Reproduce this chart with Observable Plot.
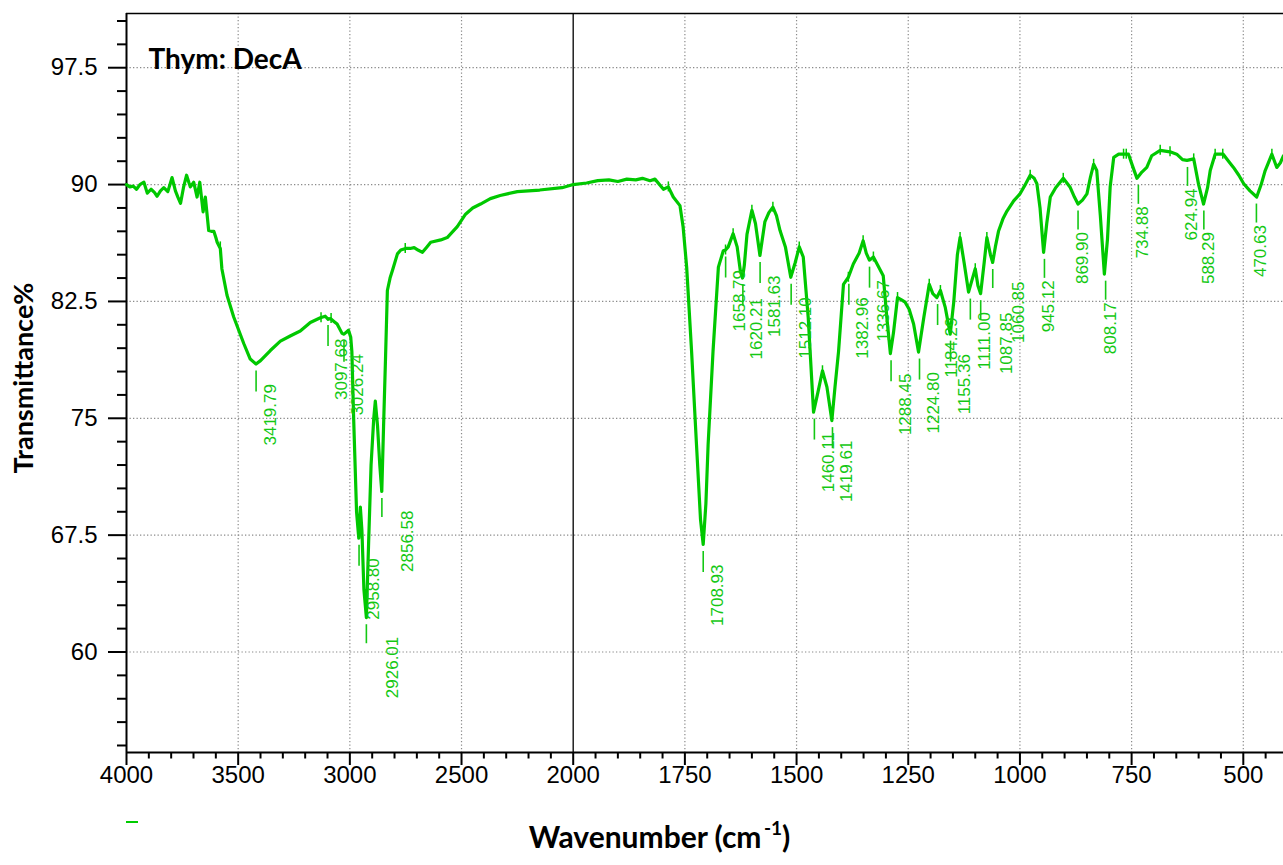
<!DOCTYPE html>
<html>
<head>
<meta charset="utf-8">
<script src="https://cdn.jsdelivr.net/npm/d3@7"></script>
<script src="https://cdn.jsdelivr.net/npm/@observablehq/plot@0.6"></script>
<style>
  body { margin: 0; background: #fff; }
  #wrap { position: relative; width: 1283px; height: 865px; }
  #swatch { position: absolute; left: 126px; top: 821px; width: 12px; height: 1.5px; background: #00cc00; }
</style>
</head>
<body>
<div id="wrap"><div id="swatch"></div></div>
<script>
// ---- data ----
const wavenumber = [
  4000,3985,3970,3955,3940,3922,3907,3890,3875,3863,3848,3833,3815,3796,3781,3770,3758,3745,3731,3720,
  3714,3699,3684,3672,3657,3647,3632,3620,3609,3600,3594,3580,3573,3550,3520,3475,3446,3420,3400,3356,
  3311,3265,3222,3177,3132,3110,3097,3087,3070,3057,3035,3026,3006,2996,2991,2983,2970,2960,2953,2946,
  2937,2926,2916,2905,2893,2886,2876,2866,2857,2849,2840,2832,2820,2809,2787,2772,2750,2730,2712,2695,
  2675,2655,2638,2593,2564,2519,2482,2450,2415,2371,2327,2250,2150,2050,2000,1970,1945,1920,1900,1880,
  1860,1845,1828,1817,1798,1787,1776,1761,1754,1746,1735,1724,1715,1709,1703,1698,1687,1675,1664,1659,
  1653,1642,1633,1626,1621,1617,1611,1600,1592,1582,1571,1562,1553,1545,1537,1525,1513,1503,1494,1485,
  1474,1462,1452,1442,1432,1421,1414,1406,1395,1384,1373,1360,1351,1344,1337,1328,1318,1306,1298,1290,
  1283,1274,1265,1257,1248,1238,1227,1215,1203,1195,1186,1178,1167,1156,1148,1140,1134,1125,1115,1108,
  1100,1094,1088,1080,1074,1066,1061,1055,1048,1038,1029,1014,1000,990,977,968,962,955,947,940,
  932,920,903,888,878,870,860,850,842,835,828,820,811,804,798,790,779,768,757,748,
  738,727,716,705,686,675,664,649,636,626,611,600,589,580,574,563,545,533,522,510,
  499,485,470,460,451,436,425,417,410
];
const transmittance = [
  90.0,89.85,89.9,89.7,90.0,90.15,89.45,89.7,89.5,89.25,89.6,89.8,89.55,90.45,89.6,89.2,88.8,89.8,90.6,90.1,
  89.85,90.15,89.2,90.15,88.25,89.2,87.05,87.0,87.0,86.6,86.3,85.9,84.6,82.9,81.5,79.8,78.8,78.48,78.7,79.35,
  79.95,80.3,80.6,81.15,81.45,81.55,81.35,81.4,81.2,81.05,80.45,80.4,80.65,80.2,79.3,75.0,69.0,67.3,69.3,67.8,
  64.0,62.2,67.0,72.0,75.0,76.1,74.5,72.0,70.3,74.5,79.0,83.2,84.0,84.5,85.55,85.8,85.9,85.9,85.95,85.8,
  85.65,86.0,86.3,86.45,86.6,87.3,88.1,88.5,88.75,89.1,89.3,89.55,89.65,89.8,90.0,90.1,90.25,90.3,90.2,90.35,
  90.3,90.4,90.25,90.35,89.7,89.85,89.2,88.65,87.3,84.7,79.3,73.3,68.5,66.9,69.5,73.3,79.3,84.7,85.75,85.8,
  86.0,86.85,86.0,84.5,84.0,84.8,86.8,88.35,87.5,85.45,87.6,88.2,88.55,88.0,87.05,86.0,84.05,85.0,86.0,85.35,
  81.5,75.4,76.7,78.05,77.0,74.85,77.0,79.3,83.6,84.05,84.9,85.6,86.4,85.6,85.15,85.35,84.8,84.15,81.5,79.15,
  80.5,82.75,82.6,82.45,82.0,81.05,79.25,81.5,83.6,83.0,82.75,83.2,82.1,80.4,82.5,85.5,86.6,85.0,83.1,83.8,
  84.6,83.5,83.0,85.0,86.6,85.5,85.0,86.0,87.0,87.8,88.3,88.95,89.4,89.9,90.6,90.4,90.05,88.5,85.65,87.5,
  89.2,89.8,90.4,89.85,89.2,88.75,89.0,89.4,90.5,91.3,90.9,88.0,84.25,86.5,89.85,91.75,91.95,91.95,91.95,91.2,
  90.4,90.8,91.1,91.85,92.2,92.15,92.1,91.95,91.6,91.55,91.65,90.0,88.75,89.8,90.9,91.95,91.95,91.5,91.1,90.6,
  90.05,89.6,89.2,90.0,90.9,91.95,91.1,91.4,91.85
];
const peakWavenumber = [
  3419.79,3097.68,3026.24,2958.80,2926.01,2856.58,1708.93,1658.79,1620.21,1581.63,1512.10,1460.11,1419.61,
  1382.96,1336.67,1288.45,1224.80,1184.29,1155.36,1111.00,1087.85,1060.85,945.12,869.90,808.17,734.88,
  624.94,588.29,470.63
];
const peakTransmittance = [
  78.48,81.4,80.4,67.3,62.2,70.3,66.9,85.8,84.0,85.45,84.05,75.4,74.85,
  84.05,85.15,79.15,79.25,82.75,80.4,83.1,83.0,85.0,85.65,88.75,84.25,90.4,
  91.55,88.75,89.2
];
const markerWavenumber = [3580,3129,3084,2752,1787,1659,1642,1600,1553,1494,1442,1384,1351,1328,1274,1203,1178,1134,1100,1074,977,903,835,768,762,686,664,611,563,546,436];
const markerTransmittance = [86.0,81.45,81.4,85.9,89.85,85.8,86.85,88.35,88.55,86.0,78.05,84.05,86.4,85.35,82.75,83.6,83.2,86.6,84.6,86.6,90.6,90.4,91.3,91.95,91.95,92.2,92.1,91.65,91.95,91.95,91.95];
const xMajorTicks = [4000,3500,3000,2500,2000,1750,1500,1250,1000,750,500];
const xMajorLabels = ["4000","3500","3000","2500","2000","1750","1500","1250","1000","750","500"];
const yMajorTicks = [60,67.5,75,82.5,90,97.5];
const yMajorLabels = ["60","67.5","75","82.5","90","97.5"];
const chartTitle = "Thym: DecA";
const yTitle = "Transmittance%";
const xTitleMain = "Wavenumber (cm";
const xTitleSup = "-1";
const xTitleClose = ")";

// ---- derived tables ----
const spectrum = wavenumber.map((w, i) => ({w, t: transmittance[i]}));
const peaks = peakWavenumber.map((w, i) => ({w, t: peakTransmittance[i]}));
const markers = markerWavenumber.map((w, i) => ({w, t: markerTransmittance[i]}));
const xMajor = xMajorTicks.map((v, i) => ({v, label: xMajorLabels[i]}));
const yMajor = yMajorTicks.map((v, i) => ({v, label: yMajorLabels[i]}));
const xMinor = d3.range(3900, 2000, -100).concat(d3.range(1950, 420, -50)).filter(v => !xMajorTicks.includes(v));
const yMinor = d3.range(54, 101, 1.5).filter(v => !yMajorTicks.includes(v));
const xGrid = xMajorTicks.filter(v => v !== 4000 && v !== 2000);

// ---- layout ----
const W = 1283, H = 865;
const mL = 126, mR = 0, mT = 13, mB = 113;
const yMin = 53.55, yMax = 100.98;
const plotW = W - mL - mR, plotH = H - mT - mB;
const PX = (yMax - yMin) / plotH; // data units per pixel (y)
const green = "#00c800";
const labelGreen = "#14c814";
const tickFont = "Liberation Sans, Arial, Helvetica, sans-serif";
const boldFont = "Lato, 'Open Sans', sans-serif";

// labels that the reference nudges sideways to avoid crowding
const nudged = new Set(["2926.01", "2856.58", "1087.85", "1060.85"]);
const fmt = d => d.w.toFixed(2);
const peaksLeft = peaks.filter(d => d.w >= 1000 && !nudged.has(fmt(d)));
const peaksNudged = peaks.filter(d => nudged.has(fmt(d)));
const peaksRight = peaks.filter(d => d.w < 1000);

const peakLabel = (data, dx, dy) => Plot.text(data, {x: "w", y: "t", text: fmt, rotate: -90, textAnchor: "end",
  dx, dy, fill: labelGreen, fontSize: 17, fontFamily: tickFont});
const peakRule = (data, a, b) => Plot.ruleX(data, {x: "w", y1: d => d.t - a * PX, y2: d => d.t - b * PX,
  stroke: labelGreen, strokeWidth: 1.6});

const chart = Plot.plot({
  width: W, height: H,
  marginLeft: mL, marginRight: mR, marginTop: mT, marginBottom: mB,
  x: {type: "linear", domain: [4000, 2000, 410], range: [mL, 572.7, W - mR], axis: null},
  y: {type: "linear", domain: [yMin, yMax], axis: null},
  style: {fontFamily: tickFont, fontSize: "24px", color: "#000", background: "#fff", overflow: "visible"},
  marks: [
    // grid
    Plot.ruleX(xGrid, {x: d => d, stroke: "#8a8a8a", strokeWidth: 1.2, strokeDasharray: "1.3,2.2"}),
    Plot.ruleY(yMajorTicks, {y: d => d, stroke: "#8a8a8a", strokeWidth: 1.2, strokeDasharray: "1.3,2.2"}),
    // break line at 2000
    Plot.ruleX([2000], {x: d => d, stroke: "#111", strokeWidth: 1.4}),
    // frame lines
    Plot.ruleX([4000], {x: d => d, stroke: "#000", strokeWidth: 2}),
    Plot.ruleY([yMin], {y: d => d, stroke: "#000", strokeWidth: 2}),
    Plot.ruleY([yMax], {y: d => d, stroke: "#000", strokeWidth: 1.6}),
    // y ticks
    Plot.ruleY(yMajor, {y: "v", stroke: "#000", strokeWidth: 2, insetLeft: -18, insetRight: plotW}),
    Plot.ruleY(yMinor, {y: d => d, stroke: "#000", strokeWidth: 2, insetLeft: -9, insetRight: plotW}),
    Plot.text(yMajor, {y: "v", text: "label", frameAnchor: "left", dx: -29, textAnchor: "end", fill: "#000", fontSize: 24}),
    // x ticks
    Plot.ruleX(xMajor, {x: "v", stroke: "#000", strokeWidth: 2, insetTop: plotH, insetBottom: -13}),
    Plot.ruleX(xMinor, {x: d => d, stroke: "#000", strokeWidth: 2, insetTop: plotH, insetBottom: -6.5}),
    Plot.text(xMajor, {x: "v", text: "label", frameAnchor: "bottom", dy: 30, fill: "#000", fontSize: 24}),
    // spectrum
    Plot.line(spectrum, {x: "w", y: "t", stroke: green, strokeWidth: 3.2, curve: "linear", strokeLinejoin: "round"}),
    // small vertical markers on the curve
    Plot.ruleX(markers, {x: "w", y1: d => d.t - 5 * PX, y2: d => d.t + 5 * PX, stroke: green, strokeWidth: 1.5}),
    // peak annotations
    peakRule(peaksLeft, 7, 28),
    peakLabel(peaksLeft, 14, 20),
    peakRule(peaksNudged, 7, 26),
    peakLabel(peaksNudged, 26, 19),
    peakRule(peaksRight, 7, 26),
    peakLabel(peaksRight, 4.5, 28),
    // titles
    Plot.text([chartTitle], {text: d => d, frameAnchor: "top-left", dx: 22, dy: 36, textAnchor: "start",
      fontWeight: "bold", fontSize: 28, fontFamily: boldFont, fill: "#000"}),
    Plot.text([yTitle], {text: d => d, frameAnchor: "left", dx: -102, dy: -5, rotate: -90, textAnchor: "middle",
      fontWeight: "bold", fontSize: 27, fontFamily: boldFont, fill: "#000"}),
    Plot.text([xTitleMain], {text: d => d, frameAnchor: "bottom", dx: 56.5, dy: 95.5, textAnchor: "end",
      fontWeight: "bold", fontSize: 30, fontFamily: boldFont, fill: "#000"}),
    Plot.text([xTitleSup], {text: d => d, frameAnchor: "bottom", dx: 59, dy: 82, textAnchor: "start",
      fontWeight: "bold", fontSize: 19, fontFamily: boldFont, fill: "#000"}),
    Plot.text([xTitleClose], {text: d => d, frameAnchor: "bottom", dx: 77, dy: 95.5, textAnchor: "start",
      fontWeight: "bold", fontSize: 30, fontFamily: boldFont, fill: "#000"})
  ]
});
document.getElementById("wrap").prepend(chart);
</script>
</body>
</html>
